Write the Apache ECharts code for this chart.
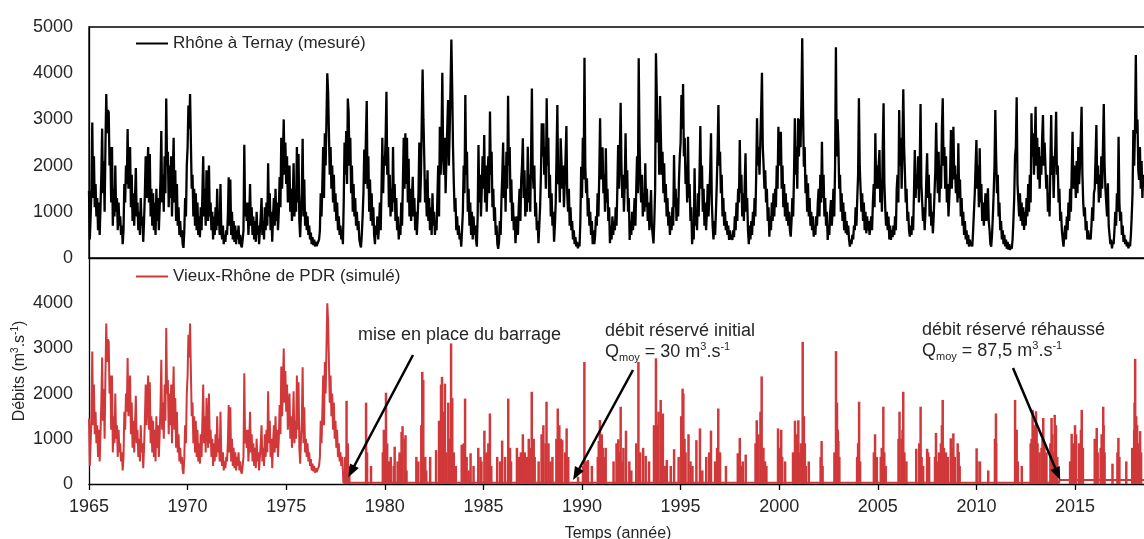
<!DOCTYPE html>
<html><head><meta charset="utf-8">
<script src="https://cdn.jsdelivr.net/npm/echarts@6/dist/echarts.min.js"></script>
<style>html,body{margin:0;padding:0;background:#fff}#c{width:1144px;height:539px}</style>
</head><body><div id="c"></div>
<script>
// ---------- DATA ----------
const anneeDebut = 1965;
const pointsParAn = 24;
// Rhône à Ternay (mesuré), m3/s, 24 values per year from 1965.0
const rhoneTernay = [
1450,400,900,1500,2930,1300,2200,1100,1600,900,1300,600,1200,500,1100,1800,2800,1400,2100,1000,2400,3550,2700,3200,
3150,2000,2400,1200,2400,700,1500,900,2000,1000,1300,600,1200,700,900,500,700,300,600,1600,1200,2000,1600,2790,
1500,2000,2400,1100,1800,800,1400,700,1300,1950,900,1200,600,1000,500,1300,700,900,350,800,1400,2200,1300,1900,
2400,1200,2250,900,1500,700,1400,600,1200,500,1500,800,1300,600,1100,1700,2750,1200,1800,1000,2200,1400,3450,2000,
2300,1100,2000,1300,2200,900,1800,2600,1200,1900,800,1600,700,1100,500,800,450,600,300,220,600,1300,900,2000,
2400,3300,2800,3550,2500,1500,1800,900,1500,700,1400,600,1200,500,900,450,1100,600,1400,2200,900,1500,700,1900,
1300,800,2000,900,1200,600,1000,400,900,500,1100,600,1500,700,1000,500,1600,600,400,700,300,500,350,600,
500,900,1750,700,1700,500,1000,400,800,350,700,300,600,400,700,300,500,280,230,400,600,2450,900,1200,
800,1200,500,900,1600,700,1100,500,900,400,800,350,1000,500,700,300,600,900,1300,500,800,400,1100,600,
1200,700,2050,900,1400,600,1000,350,900,1300,700,1500,800,1200,600,1000,1750,1100,2600,1500,2200,3000,1800,2500,
1600,2200,1200,1700,2000,1000,1500,800,1300,2050,900,1400,1000,2400,1200,2250,800,450,1000,1400,2580,900,1700,700,
1000,600,900,500,700,400,550,300,450,280,400,250,350,260,300,250,400,600,1400,900,1600,2400,1300,2700,
2000,3000,4000,3600,2700,1800,2400,1500,2000,1200,1800,1000,1400,800,1200,600,900,500,700,400,600,300,1200,2500,
1800,2750,1600,3450,3150,2000,2600,1400,2000,1000,1600,900,1300,700,1000,600,800,400,300,230,500,900,1400,2350,
1600,2600,3400,1500,2200,1000,1700,800,1400,700,1100,500,300,700,500,900,400,700,1200,600,1500,2600,1400,2200,
2000,2600,3600,1800,2400,1100,1800,900,1500,1000,2400,1200,1600,800,1300,600,900,400,700,500,1200,700,1600,2600,
1500,2700,1600,2600,1200,2150,900,1500,800,1300,1760,900,1300,600,1000,500,900,1400,2500,1200,1800,3000,4080,3000,
2200,1200,1700,900,1900,800,1300,600,1100,500,1400,700,1000,500,800,600,1300,2000,900,2840,1800,2600,4010,2200,
1800,2600,1400,2200,2800,3420,2000,2800,3700,4730,3700,2400,1600,1000,1300,600,900,500,700,400,530,245,600,1000,
2000,1400,3530,1800,2300,1000,1500,700,1200,500,1000,400,900,500,700,400,245,900,2445,1200,1800,900,1500,2200,
1500,2660,1200,2000,1000,1700,2200,1400,3170,1800,2300,1100,1500,800,1100,500,700,300,200,350,800,500,1300,1800,
2500,1300,2000,1000,2300,1500,3510,2000,2400,1200,1700,800,1200,600,900,320,600,900,500,1100,1500,800,1700,2000,
2590,1300,1900,900,1500,1000,2410,1200,1800,1000,2200,3670,1900,1500,2000,900,1200,600,800,320,700,1100,1800,2915,
2200,2915,1800,2400,1500,3456,2000,2600,1300,1800,900,1400,700,1000,353,700,1200,2200,3311,1600,2000,1200,2590,2100,
1500,2000,1100,1600,2200,2857,1400,1000,1500,700,1100,600,800,400,600,300,450,250,350,209,300,250,800,1977,
1300,2600,1700,4336,2000,1400,1724,900,1300,700,1000,500,800,300,600,300,500,900,700,1400,900,1800,3022,1700,
2000,2395,1400,1800,1000,2373,1200,1500,800,1100,320,700,400,900,500,800,600,1100,700,1500,2445,1500,2200,3362,
2000,1300,1800,1000,1600,2698,1500,1900,1000,1300,390,800,500,1000,600,900,1300,700,1500,2200,1400,4321,2500,1600,
1200,1800,900,1400,1000,2049,1100,1500,800,1200,600,1000,1471,700,500,317,800,1500,4430,3528,2500,3000,1800,3506,
2600,1800,2300,1400,2049,1200,1600,900,1300,700,1000,500,900,600,1100,700,2229,1100,1500,800,1300,900,1700,2200,
2500,3528,2800,3766,2200,2600,1600,2000,1200,2626,1300,1600,800,1100,300,600,400,1940,700,1000,600,1400,900,1800,
2857,1500,2000,1000,1500,700,1200,600,1000,1600,900,1400,1900,2698,1200,700,400,800,500,1000,1600,2300,3311,2000,
2300,1400,1800,900,1300,700,1000,600,800,500,700,389,600,400,500,390,600,450,900,600,1200,800,1500,1200,
2554,1400,1800,900,1400,800,1600,2265,1000,1300,600,300,700,400,800,500,1000,700,1300,900,1800,3022,2000,2400,
1800,2500,3200,4011,2410,2000,1500,1900,1200,1500,800,1100,461,900,600,1200,800,1400,900,1500,1100,2000,1500,2842,
2000,2400,2734,1500,2000,1100,1600,900,1400,800,1200,700,1000,600,462,800,1300,900,1800,3022,1800,2410,1500,3023,
2200,3000,2400,3400,4754,3200,1977,2400,1400,1800,1000,1616,900,1300,700,1000,600,900,462,700,500,900,700,1200,
1500,900,1800,1200,2518,1300,1800,900,1300,700,1000,389,700,500,1000,1255,700,1000,1500,900,2000,4560,2200,3000,
2482,1500,1800,1000,1400,800,1200,600,1000,534,800,500,700,400,245,400,300,500,400,700,600,1100,700,1300,
1800,3456,1977,1500,1000,1400,800,1200,600,1000,534,900,600,800,500,700,900,600,1200,1600,1100,2698,1500,2000,
1500,2000,2337,1200,1700,1000,2400,3347,1600,1100,700,1000,600,900,400,700,389,606,450,700,500,900,600,1500,
1800,1200,3203,2000,2600,1500,2500,3650,2400,1832,1200,1500,800,1000,600,462,700,500,900,600,1400,2337,1300,1800,
1500,2200,1200,2000,3333,1600,1200,800,1100,600,1000,1700,2265,1300,1800,900,1400,700,1000,534,900,1400,1900,2929,
2000,1400,2300,1200,2000,1500,2800,3456,2000,2400,1500,2200,1200,1600,900,1300,1800,2770,1500,2000,2842,1700,2000,1400,
1800,1200,2482,1300,1700,900,1300,700,1000,500,800,400,600,300,500,245,400,260,350,250,600,1000,1400,2000,
2554,1500,2000,1100,2373,1200,1600,800,1200,700,1000,1400,800,1100,1508,800,600,300,245,500,900,1400,2000,3203,
2200,1400,1800,900,1200,600,800,400,600,300,500,250,400,200,350,180,300,173,250,200,400,800,1300,2200,
2400,3477,1600,1255,900,1400,800,1200,700,1100,606,1000,700,1300,900,1600,1000,1800,1200,3131,2200,2700,1800,2400,
3275,2000,2600,1700,2400,1500,2200,1800,2600,3095,2000,2500,2500,1500,1800,1000,1400,900,2000,3095,1800,2200,1300,2000,
2400,3167,1800,2000,1200,1500,800,1000,600,400,245,500,700,400,900,600,1200,800,1500,1000,1900,2734,1500,2000,
1800,1300,2100,1400,2400,1600,2000,2600,3275,1800,1200,900,1100,600,800,400,600,400,500,400,700,1100,800,1400,
1500,2200,2878,1600,2000,1200,1800,1300,2200,1500,2400,3333,2000,1500,1200,900,1616,700,500,300,400,209,350,300,
600,1000,700,1400,1000,2626,1200,800,1000,500,700,350,500,300,400,250,350,209,300,250,500,900,1400,2770,
2000,2800,4393,2698,3000,1900,1688,2400,1500,2100,1300,1800
];
// Vieux-Rhône de PDR (simulé): before the dam it equals the measured flow;
// afterwards: reserved flow + overflow events [year, m3/s]
const dateBarrage = 1977.9;
const dateRehausse = 2014.2;
const debitReserveInitial = 30;
const debitReserveRehausse = 87.5;
const cruesVieuxRhone = [
[1977.98,600],[1978.06,1840],[1978.12,900],[1978.2,400],
[1979.05,1800],[1979.1,700],
[1979.95,1200],[1980.06,2020],[1980.12,900],[1980.2,500],
[1980.45,400],[1980.5,825],[1980.75,700],[1980.85,1150],[1980.9,1280],[1981.0,1000],[1981.1,300],
[1981.7,500],[1981.85,1300],[1981.9,2480],[1981.95,2300],[1982.05,600],[1982.1,300],
[1982.75,1400],[1982.85,2200],[1982.9,2370],[1983.0,900],[1983.1,700],[1983.22,1800],[1983.3,1000],[1983.36,3110],[1983.42,1900],[1983.5,700],
[1983.9,870],[1984.07,1890],[1984.15,600],[1984.25,300],
[1984.74,800],[1984.9,500],[1985.05,1180],[1985.15,700],[1985.33,1560],[1985.4,400],
[1985.95,960],[1986.1,600],[1986.26,1890],[1986.35,800],
[1986.9,700],[1987.0,1100],[1987.2,600],[1987.3,1000],[1987.45,2040],[1987.55,1000],[1987.8,500],[1987.95,1100],[1988.04,1300],
[1988.15,900],[1988.2,1820],[1988.3,900],[1988.7,1000],[1988.77,1670],[1988.85,1300],[1988.93,1000],[1989.22,1230],[1989.3,600],
[1990.05,400],[1990.12,2700],[1990.2,500],
[1990.8,600],[1990.85,950],[1990.91,1415],[1991.05,800],[1991.2,800],
[1991.84,990],[1991.9,700],[1991.96,1710],[1992.05,500],[1992.23,1180],
[1992.5,300],[1992.86,2700],[1992.95,700],
[1993.23,620],[1993.65,1300],[1993.75,2780],[1993.8,1300],[1993.88,1600],[1993.99,1860],[1994.05,900],[1994.1,1560],[1994.15,400],[1994.2,400],
[1994.67,770],[1995.03,1500],[1995.1,2110],[1995.14,2000],[1995.2,1000],[1995.4,1100],[1995.6,400],
[1995.98,1230],[1996.1,300],[1996.54,1180],[1996.85,800],[1996.91,1670],[1997.0,700],
[1998.0,1020],[1998.05,400],[1998.3,650],
[1998.8,900],[1998.86,1410],[1999.05,1600],[1999.11,2380],[1999.2,800],[1999.28,500],
[1999.94,1230],[2000.1,1200],[2000.15,600],[2000.7,700],[2000.8,1400],[2000.9,1100],[2000.97,1410],[2001.1,900],[2001.19,3145],[2001.25,1500],[2001.35,400],
[2002.15,950],[2002.2,400],[2002.8,700],[2002.88,2940],[2002.93,1800],[2003.0,950],
[2003.95,600],[2004.05,1820],[2004.1,500],[2004.86,1100],[2004.95,600],[2005.2,800],[2005.28,1710],[2005.33,700],
[2006.1,1600],[2006.2,1000],[2006.29,2040],[2006.35,700],[2006.95,780],[2007.17,1710],[2007.22,600],[2007.5,780],[2007.6,600],
[2007.95,1130],[2008.05,500],[2008.2,900],[2008.29,1860],[2008.35,800],[2008.55,600],[2008.7,1010],[2008.83,1120],[2008.9,600],[2009.1,710],
[2010.01,790],[2010.18,500],[2010.94,1000],[2010.99,1560],
[2011.96,1860],[2012.04,1200],[2012.3,400],
[2012.75,900],[2012.85,1640],[2012.9,1200],[2013.02,1610],[2013.1,900],[2013.3,800],[2013.39,1460],[2013.45,900],[2013.55,700],[2013.81,1460],[2013.9,700],[2013.97,1530],[2014.03,1300],
[2014.75,500],[2014.83,1110],[2015.2,900],[2015.34,1640],[2015.4,800],
[2016.05,900],[2016.1,1240],[2016.3,800],[2016.43,1710],[2016.5,700],[2016.9,450],[2017.2,1020],
[2018.0,1200],[2018.05,2770],[2018.1,1500],[2018.2,800],[2018.3,1170]
];
// smaller overflow events
const cruesSecondaires = [
[1979.3,400],[1979.9,700],[1980.3,600],[1980.65,500],[1980.77,640],[1981.05,1080],[1981.6,600],[1982.3,600],[1982.6,750],
[1982.95,1600],[1983.05,2220],[1983.6,400],[1984.0,900],[1984.35,680],[1984.5,400],[1984.85,600],[1985.25,900],[1985.7,600],
[1985.85,500],[1986.4,500],[1986.7,800],[1986.8,600],[1987.1,700],[1987.35,800],[1987.6,600],[1988.0,900],[1988.4,500],
[1988.5,600],[1989.0,970],[1989.15,700],[1989.8,160],[1990.3,530],[1990.5,400],[1991.0,1100],[1991.12,600],[1991.6,500],
[1991.75,900],[1992.1,800],[1992.4,500],[1992.75,900],[1993.1,800],[1993.4,500],[1993.7,1000],[1994.3,530],[1994.5,400],
[1994.9,600],[1995.25,700],[1995.5,500],[1995.8,970],[1996.3,600],[1996.45,700],[1996.75,500],[1997.3,400],[1997.9,680],
[1998.15,500],[1998.95,1100],[1999.35,400],[2000.05,800],[2000.3,500],[2000.85,900],[2001.05,700],[2001.3,900],[2001.5,500],
[2002.1,600],[2002.97,1200],[2003.05,600],[2004.0,900],[2004.8,700],[2005.15,600],[2005.4,400],[2006.05,1000],[2006.25,1200],
[2006.45,500],[2007.1,900],[2007.3,400],[2007.55,700],[2007.9,600],[2008.1,700],[2008.25,1300],[2008.45,700],[2008.75,800],
[2009.05,900],[2009.15,400],[2010.05,500],[2010.6,300],[2011.0,900],[2012.0,1200],[2012.1,500],[2012.8,1000],[2012.95,1300],
[2013.05,1200],[2013.2,700],[2013.35,1000],[2013.5,600],[2013.75,900],[2013.85,1100],[2014.0,900],[2014.1,600],[2014.9,900],
[2015.0,1300],[2015.05,1100],[2015.3,1200],[2016.0,1000],[2016.15,700],[2016.35,1100],[2016.45,1300],[2017.15,700],
[2017.25,600],[2017.6,500],[2017.9,800],[2018.02,1800],[2018.15,1300],[2018.25,900],[2018.35,700]
];
// axes
const xMin = 1965, xMax = 2018.65, xInterval = 5;
const yMin = 0, yMax = 5000, yInterval = 1000;
// texts
const nomMesure = 'Rhône à Ternay (mesuré)';
const nomSimule = 'Vieux-Rhône de PDR (simulé)';
const titreX = 'Temps (année)';
const annotations = [
  { l1: 'mise en place du barrage', l2: null, cible: [1978.15, 150] },
  { l1: 'débit réservé initial', l2: '30', cible: [1989.55, 90] },
  { l1: 'débit réservé réhaussé', l2: '87,5', cible: [2014.25, 90] }
];

// ---------- BUILD ----------
const FONT = '"Liberation Sans", Arial, sans-serif';
const TXT = '#262626';
const RED = '#d0383a';
const tTernay = rhoneTernay.map((v, i) => [anneeDebut + i / pointsParAn, v]);
const vieuxLigne = tTernay.filter(p => p[0] < dateBarrage).concat([
  [dateBarrage, debitReserveInitial], [dateRehausse, debitReserveInitial],
  [dateRehausse, debitReserveRehausse], [xMax, debitReserveRehausse]
]);

const chart = echarts.init(document.getElementById('c'), null, { renderer: 'canvas' });
const axisLine = { show: true, lineStyle: { color: '#000', width: 1.3 } };
const plain = v => String(v);
const yLabel = { fontSize: 18, color: TXT, fontFamily: FONT, margin: 16, formatter: plain };

chart.setOption({
  animation: false,
  backgroundColor: '#fff',
  textStyle: { fontFamily: FONT },
  grid: [
    { left: 89, right: -3, top: 27, height: 231, show: true, borderColor: '#000', borderWidth: 1.3, containLabel: false, outerBoundsMode: 'none' },
    { left: 89, right: -3, top: 258, height: 226, containLabel: false, outerBoundsMode: 'none' }
  ],
  legend: [
    { data: [nomMesure], left: 136, top: 35, padding: 0, icon: 'rect', itemWidth: 32, itemHeight: 2, selectedMode: false,
      textStyle: { fontSize: 17, color: TXT, fontFamily: FONT } },
    { data: [nomSimule], left: 136, top: 268, padding: 0, icon: 'rect', itemWidth: 32, itemHeight: 2, selectedMode: false,
      textStyle: { fontSize: 17, color: TXT, fontFamily: FONT } }
  ],
  xAxis: [
    { type: 'value', gridIndex: 0, min: xMin, max: xMax, interval: xInterval, axisLine: axisLine,
      axisLabel: { show: false }, axisTick: { show: false }, splitLine: { show: false } },
    { type: 'value', gridIndex: 1, min: xMin, max: xMax, interval: xInterval, axisLine: axisLine,
      axisLabel: { fontSize: 18, color: TXT, fontFamily: FONT, margin: 14, showMaxLabel: false, formatter: plain },
      axisTick: { show: true, inside: false, length: 6, lineStyle: { color: '#000', width: 1.3 } },
      splitLine: { show: false },
      name: titreX, nameLocation: 'middle', nameGap: 42, nameMoveOverlap: false,
      nameTextStyle: { fontSize: 16, color: TXT, fontFamily: FONT } }
  ],
  yAxis: [
    { type: 'value', gridIndex: 0, min: yMin, max: yMax, interval: yInterval, axisLine: axisLine,
      axisLabel: yLabel, axisTick: { show: false }, splitLine: { show: false } },
    { type: 'value', gridIndex: 1, min: yMin, max: yMax, interval: yInterval, axisLine: axisLine,
      axisLabel: Object.assign({ showMaxLabel: false }, yLabel), axisTick: { show: false }, splitLine: { show: false },
      name: '{a|Débits (m}{s|3}{a|.s}{s|-1}{a|)}', nameLocation: 'middle', nameGap: 59, nameMoveOverlap: false,
      nameTextStyle: { color: TXT, fontFamily: FONT, rich: {
        a: { fontSize: 16, lineHeight: 20, color: TXT, fontFamily: FONT },
        s: { fontSize: 10, lineHeight: 11, verticalAlign: 'top', color: TXT, fontFamily: FONT } } } }
  ],
  series: [
    { name: nomMesure, type: 'line', xAxisIndex: 0, yAxisIndex: 0, data: tTernay, showSymbol: false, symbol: 'none',
      color: '#000', lineStyle: { color: '#000', width: 2.3 }, z: 3 },
    { name: nomSimule, type: 'line', xAxisIndex: 1, yAxisIndex: 1, data: vieuxLigne, showSymbol: false, symbol: 'none',
      color: RED, lineStyle: { color: RED, width: 2 }, z: 3 },
    { name: nomSimule, type: 'bar', xAxisIndex: 1, yAxisIndex: 1, data: cruesVieuxRhone.concat(cruesSecondaires), barWidth: 2.5,
      barGap: '-100%', color: RED, itemStyle: { color: RED }, z: 2 }
  ]
});

// annotations
const queues = [[413, 355], [633, 370], [1013, 368]];
const textePos = [[358, 335], [605, 331], [922, 330]];
const graphics = [];
annotations.forEach((a, k) => {
  const tip = chart.convertToPixel({ gridIndex: 1 }, a.cible);
  const tail = queues[k];
  const dx = tip[0] - tail[0], dy = tip[1] - tail[1];
  const L = Math.hypot(dx, dy), ux = dx / L, uy = dy / L;
  const hl = 13, hw = 5;
  const bx = tip[0] - ux * hl, by = tip[1] - uy * hl;
  graphics.push({ type: 'line', z: 100, shape: { x1: tail[0], y1: tail[1], x2: bx + ux * 2, y2: by + uy * 2 },
    style: { stroke: '#000', lineWidth: 2.5 } });
  graphics.push({ type: 'polygon', z: 100, shape: { points: [[tip[0], tip[1]], [bx - uy * hw, by + ux * hw], [bx + uy * hw, by - ux * hw]] },
    style: { fill: '#000' } });
  const [tx, ty] = textePos[k];
  graphics.push({ type: 'text', z: 100, x: tx, y: ty,
    style: { text: a.l1, fontSize: 18, fontFamily: FONT, fill: TXT, verticalAlign: 'middle', align: 'left' } });
  if (a.l2) {
    graphics.push({ type: 'text', z: 100, x: tx, y: ty + 21,
      style: { text: '{n|Q}{sub|moy}{n| = ' + a.l2 + ' m}{sup|3}{n|.s}{sup|-1}', verticalAlign: 'middle', align: 'left',
        rich: {
          n: { fontSize: 18, lineHeight: 22, fill: TXT, fontFamily: FONT },
          sub: { fontSize: 11, lineHeight: 9, verticalAlign: 'bottom', fill: TXT, fontFamily: FONT },
          sup: { fontSize: 11, lineHeight: 12, verticalAlign: 'top', fill: TXT, fontFamily: FONT }
        } } });
  }
});
chart.setOption({ graphic: graphics });
</script></body></html>
